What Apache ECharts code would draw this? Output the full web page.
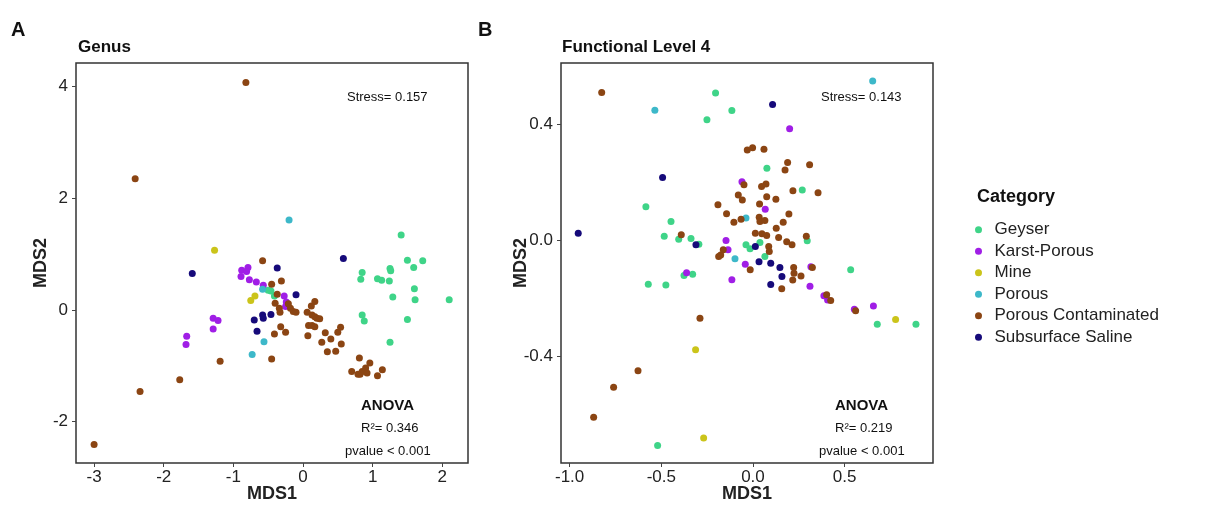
<!DOCTYPE html>
<html>
<head>
<meta charset="utf-8">
<script src="https://cdn.jsdelivr.net/npm/echarts@6/dist/echarts.min.js"></script>
<style>
  html, body { margin: 0; padding: 0; background: #fff; }
  #main { width: 1232px; height: 511px; }
</style>
</head>
<body>
<div id="main"></div>
<script>
// categories and colours
var categories = ['Geyser', 'Karst-Porous', 'Mine', 'Porous', 'Porous Contaminated', 'Subsurface Saline'];
var colors = ['#3fd488', '#a01ee6', '#cbc41a', '#3db8c9', '#8b4513', '#160a7a'];

// panel A: Genus (MDS1, MDS2)
var genusGeyser = [[0.85,0.67],[0.83,0.55],[0.85,-0.09],[0.88,-0.20],[1.41,1.34],[1.50,0.89],[1.72,0.88],[1.59,0.76],
  [1.25,0.74],[1.26,0.70],[1.07,0.56],[1.13,0.53],[1.24,0.52],[1.60,0.38],[1.29,0.23],[1.61,0.18],[2.10,0.18],
  [1.50,-0.17],[1.25,-0.58],[-0.50,0.35],[-0.46,0.34],[-0.41,0.25]];
var genusKarst = [[-0.88,0.71],[-0.79,0.76],[-0.81,0.69],[-0.89,0.60],[-0.77,0.54],[-0.67,0.50],[-0.57,0.44],
  [-0.27,0.25],[-0.24,0.14],[-0.25,0.06],[-1.29,-0.15],[-1.22,-0.19],[-1.29,-0.34],[-1.67,-0.47],[-1.68,-0.62]];
var genusMine = [[-1.27,1.07],[-0.69,0.25],[-0.75,0.17]];
var genusPorous = [[-0.20,1.61],[-0.58,0.37],[-0.56,-0.57],[-0.73,-0.80]];
var genusContam = [[-0.82,4.07],[-2.41,2.35],[-0.58,0.88],[-0.45,0.46],[-0.31,0.52],[-0.37,0.28],[-0.40,0.12],
  [-0.34,0.03],[-0.33,-0.04],[-0.21,0.11],[-0.18,0.03],[-0.14,-0.03],[-0.10,-0.04],[-0.32,-0.30],[-0.25,-0.40],
  [-0.41,-0.43],[-0.45,-0.88],[-1.19,-0.92],[-1.77,-1.25],[-2.34,-1.46],[-3.00,-2.41],
  [0.06,-0.04],[0.12,0.07],[0.17,0.15],[0.13,-0.09],[0.17,-0.12],[0.20,-0.15],[0.24,-0.16],[0.08,-0.28],
  [0.13,-0.28],[0.17,-0.30],[0.07,-0.46],[0.32,-0.41],[0.40,-0.52],[0.50,-0.40],[0.54,-0.31],[0.27,-0.58],
  [0.55,-0.61],[0.35,-0.75],[0.47,-0.74],[0.81,-0.86],[0.70,-1.10],[0.82,-1.15],[0.85,-1.10],[0.90,-1.04],
  [0.96,-0.95],[0.92,-1.13],[1.07,-1.18],[1.14,-1.07],[0.79,-1.15]];
var genusSaline = [[-1.59,0.65],[-0.37,0.75],[0.58,0.92],[-0.10,0.27],[-0.70,-0.18],[-0.58,-0.09],[-0.57,-0.15],
  [-0.46,-0.08],[-0.66,-0.38]];

// panel B: Functional Level 4
var funcGeyser = [[-0.204,0.507],[-0.251,0.414],[-0.115,0.446],[-0.584,0.114],[-0.447,0.064],[-0.484,0.013],
  [-0.405,0.002],[-0.338,0.005],[-0.295,-0.015],[0.076,0.247],[0.269,0.172],[0.296,-0.003],[-0.038,-0.017],
  [-0.016,-0.030],[0.038,-0.009],[0.065,-0.057],[0.533,-0.103],[0.678,-0.291],[0.889,-0.291],[-0.376,-0.123],
  [-0.329,-0.118],[-0.571,-0.153],[-0.475,-0.155],[-0.520,-0.709]];
var funcKarst = [[0.200,0.383],[-0.060,0.201],[0.067,0.106],[-0.147,-0.002],[-0.136,-0.034],[-0.042,-0.084],
  [-0.115,-0.137],[0.316,-0.092],[0.311,-0.160],[0.387,-0.192],[0.407,-0.207],[0.553,-0.239],[0.657,-0.228],
  [-0.362,-0.113]];
var funcMine = [[0.778,-0.274],[-0.313,-0.379],[-0.269,-0.683]];
var funcPorous = [[-0.535,0.447],[0.653,0.548],[-0.038,0.076],[-0.098,-0.065]];
var funcContam = [[-0.825,0.508],[-0.191,0.121],[-0.391,0.018],[-0.187,-0.057],[-0.031,0.310],[-0.002,0.318],
  [0.060,0.313],[0.189,0.267],[0.175,0.241],[0.309,0.259],[-0.049,0.190],[0.047,0.184],[0.071,0.193],
  [0.218,0.170],[0.355,0.163],[-0.080,0.155],[-0.058,0.138],[0.075,0.149],[0.125,0.140],[0.036,0.124],
  [-0.144,0.090],[-0.065,0.071],[-0.104,0.061],[0.034,0.078],[0.038,0.064],[0.065,0.067],[0.196,0.089],
  [0.165,0.061],[0.127,0.040],[0.013,0.023],[0.049,0.021],[0.075,0.015],[0.140,0.008],[0.291,0.013],
  [0.184,-0.006],[0.213,-0.017],[0.086,-0.023],[0.089,-0.040],[-0.162,-0.034],[-0.176,-0.052],[-0.015,-0.103],
  [0.222,-0.095],[0.224,-0.115],[0.262,-0.124],[0.217,-0.138],[0.324,-0.095],[0.157,-0.168],[0.402,-0.189],
  [0.424,-0.209],[0.560,-0.244],[-0.289,-0.270],[-0.627,-0.451],[-0.760,-0.508],[-0.869,-0.611]];
var funcSaline = [[-0.493,0.215],[-0.953,0.023],[-0.311,-0.017],[0.107,0.467],[0.013,-0.023],[0.033,-0.075],
  [0.097,-0.080],[0.147,-0.095],[0.158,-0.126],[0.097,-0.154]];

// tick labels
var genusXTicks = [-3, -2, -1, 0, 1, 2];
var genusYTicks = [-2, 0, 2, 4];
var funcXTicks = [-1.0, -0.5, 0.0, 0.5];
var funcYTicks = [-0.4, 0.0, 0.4];

var genusData = [genusGeyser, genusKarst, genusMine, genusPorous, genusContam, genusSaline];
var funcData = [funcGeyser, funcKarst, funcMine, funcPorous, funcContam, funcSaline];

var font = 'Liberation Sans, Arial, sans-serif';
var myChart = echarts.init(document.getElementById('main'));

function axis(gridIndex, min, max, ticks, fmt, name, nameGap, margin) {
  return {
    type: 'value', gridIndex: gridIndex, min: min, max: max,
    name: name, nameLocation: 'middle', nameGap: nameGap, nameMoveOverlap: false,
    nameTextStyle: { fontFamily: font, fontSize: 18, fontWeight: 'bold', color: '#222' },
    splitLine: { show: false },
    axisLine: { show: false, onZero: false },
    axisTick: { show: true, length: 4, customValues: ticks, lineStyle: { color: '#444' } },
    axisLabel: { customValues: ticks, fontFamily: font, fontSize: 17, color: '#222', margin: margin,
      formatter: fmt }
  };
}

var series = [];
categories.forEach(function (c, i) {
  series.push({ name: c, type: 'scatter', xAxisIndex: 0, yAxisIndex: 0, data: genusData[i],
    symbolSize: 7, itemStyle: { color: colors[i], opacity: 1 } });
  series.push({ name: c, type: 'scatter', xAxisIndex: 1, yAxisIndex: 1, data: funcData[i],
    symbolSize: 7, itemStyle: { color: colors[i], opacity: 1 } });
});

var intFmt = function (v) { return String(v); };
var decFmt = function (v) { return v.toFixed(1); };

myChart.setOption({
  animation: false,
  backgroundColor: '#fff',
  grid: [
    { left: 76, top: 63, width: 392, height: 400, show: true, borderColor: '#333', borderWidth: 1.5,
      containLabel: false, outerBoundsMode: 'none' },
    { left: 561, top: 63, width: 372, height: 400, show: true, borderColor: '#333', borderWidth: 1.5,
      containLabel: false, outerBoundsMode: 'none' }
  ],
  xAxis: [
    axis(0, -3.26, 2.37, genusXTicks, intFmt, 'MDS1', 22, 6),
    axis(1, -1.047, 0.982, funcXTicks, decFmt, 'MDS1', 22, 6)
  ],
  yAxis: [
    axis(0, -2.74, 4.42, genusYTicks, intFmt, 'MDS2', 26, 8),
    axis(1, -0.769, 0.61, funcYTicks, decFmt, 'MDS2', 31, 8)
  ],
  legend: {
    data: categories, orient: 'vertical', left: 970, top: 215,
    icon: 'circle', itemWidth: 22, itemHeight: 7, itemGap: 2,
    textStyle: { fontFamily: font, fontSize: 17, color: '#222', lineHeight: 19.5 },
    selectedMode: false
  },
  graphic: [
    { type: 'text', left: 11, top: 20, style: { text: 'A', fontFamily: font, fontSize: 20, fontWeight: 'bold', fill: '#111' } },
    { type: 'text', left: 478, top: 20, style: { text: 'B', fontFamily: font, fontSize: 20, fontWeight: 'bold', fill: '#111' } },
    { type: 'text', left: 78, top: 39, style: { text: 'Genus', fontFamily: font, fontSize: 17, fontWeight: 'bold', fill: '#111' } },
    { type: 'text', left: 562, top: 39, style: { text: 'Functional Level 4', fontFamily: font, fontSize: 17, fontWeight: 'bold', fill: '#111' } },
    { type: 'text', left: 347, top: 91, style: { text: 'Stress= 0.157', fontFamily: font, fontSize: 13, fill: '#111' } },
    { type: 'text', left: 821, top: 91, style: { text: 'Stress= 0.143', fontFamily: font, fontSize: 13, fill: '#111' } },
    { type: 'text', left: 361, top: 398, style: { text: 'ANOVA', fontFamily: font, fontSize: 15, fontWeight: 'bold', fill: '#111' } },
    { type: 'text', left: 361, top: 422, style: { text: 'R²= 0.346', fontFamily: font, fontSize: 13, fill: '#111' } },
    { type: 'text', left: 345, top: 445, style: { text: 'pvalue < 0.001', fontFamily: font, fontSize: 13, fill: '#111' } },
    { type: 'text', left: 835, top: 398, style: { text: 'ANOVA', fontFamily: font, fontSize: 15, fontWeight: 'bold', fill: '#111' } },
    { type: 'text', left: 835, top: 422, style: { text: 'R²= 0.219', fontFamily: font, fontSize: 13, fill: '#111' } },
    { type: 'text', left: 819, top: 445, style: { text: 'pvalue < 0.001', fontFamily: font, fontSize: 13, fill: '#111' } },
    { type: 'text', left: 977, top: 188, style: { text: 'Category', fontFamily: font, fontSize: 18, fontWeight: 'bold', fill: '#111' } }
  ],
  series: series
});
</script>
</body>
</html>
